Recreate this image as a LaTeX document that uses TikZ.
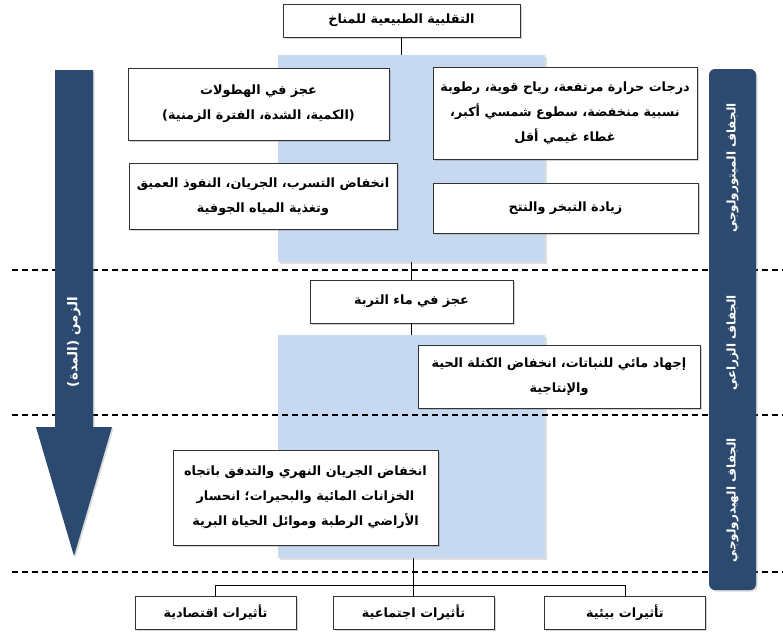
\documentclass[tikz,border=0pt]{standalone}
\usepackage{fontspec}
\newfontfamily\arabicfont[Script=Arabic]{DejaVu Sans}
\TeXXeTstate=1
\usetikzlibrary{shadows}
\definecolor{lightblue}{RGB}{198,217,241}
\definecolor{navy}{RGB}{44,74,111}
\newcommand{\ar}[1]{\beginR #1\endR}
\begin{document}
\begin{tikzpicture}[x=1pt,y=-1pt,
  box/.style={draw=black!80, line width=0.8pt, fill=white,
    drop shadow={shadow xshift=1.5pt,shadow yshift=-1.5pt,opacity=0.35},
    font=\arabicfont\bfseries\fontsize{12.8}{25}\selectfont, align=center, inner sep=0pt},
  bluebg/.style={fill=lightblue, draw=none,
    drop shadow={shadow xshift=1.5pt,shadow yshift=-1.5pt,opacity=0.25}, inner sep=0pt},
  sep/.style={dash pattern=on 6pt off 4pt, line width=1.2pt},
  conn/.style={line width=0.9pt},
  barlabel/.style={text=white, font=\arabicfont\bfseries\fontsize{12}{14}\selectfont, rotate=90, inner sep=0pt}
]
\useasboundingbox (0,0) rectangle (783,635);
% blue backgrounds
\node[bluebg, minimum width=267pt, minimum height=207pt] (blue1) at (411.5,158.5) {};
\node[bluebg, minimum width=267pt, minimum height=223pt] (blue2) at (411.5,446.5) {};
% separators
\coordinate (s1a) at (12,270); \coordinate (s1b) at (783,270);
\coordinate (s2a) at (12,415); \coordinate (s2b) at (783,415);
\coordinate (s3a) at (12,572); \coordinate (s3b) at (783,572);
\draw[sep] (s1a) -- (s1b);
\draw[sep] (s2a) -- (s2b);
\draw[sep] (s3a) -- (s3b);
% boxes
\node[box, minimum width=237pt, minimum height=33pt] (top) at (401.5,20.5) {\ar{التقلبية الطبيعية للمناخ}};
\node[box, minimum width=261pt, minimum height=72pt] (prec) at (258.5,104) {\ar{عجز في الهطولات}\\\ar{(الكمية، الشدة، الفترة الزمنية)}};
\node[box, minimum width=268pt, minimum height=66pt] (infil) at (263,196.5) {\ar{انخفاض التسرب، الجريان، النفوذ العميق}\\\ar{وتغذية المياه الجوفية}};
\node[box, minimum width=264pt, minimum height=92pt] (temp) at (565,113) {\ar{درجات حرارة مرتفعة، رياح قوية، رطوبة}\\\ar{نسبية منخفضة، سطوع شمسي أكبر،}\\\ar{غطاء غيمي أقل}};
\node[box, minimum width=265pt, minimum height=50pt] (evap) at (565.5,208) {\ar{زيادة التبخر والنتح}};
\node[box, minimum width=203pt, minimum height=43pt] (soil) at (411.5,301.5) {\ar{عجز في ماء التربة}};
\node[box, minimum width=282pt, minimum height=63pt] (plant) at (559,376.5) {\ar{إجهاد مائي للنباتات، انخفاض الكتلة الحية}\\\ar{والإنتاجية}};
\node[box, minimum width=265pt, minimum height=95pt] (flow) at (305.5,497.5) {\ar{انخفاض الجريان النهري والتدفق باتجاه}\\\ar{الخزانات المائية والبحيرات؛ انحسار}\\\ar{الأراضي الرطبة وموائل الحياة البرية}};
\node[box, minimum width=161pt, minimum height=33pt] (econ) at (215.5,612.5) {\ar{تأثيرات اقتصادية}};
\node[box, minimum width=161pt, minimum height=33pt] (soc) at (413.5,612.5) {\ar{تأثيرات اجتماعية}};
\node[box, minimum width=161pt, minimum height=33pt] (env) at (625,612.5) {\ar{تأثيرات بيئية}};
% connectors
\coordinate (junc) at (413,585);
\draw[conn] (top.south) -- (top.south |- blue1.north);
\draw[conn] (blue1.south -| soil.north) -- (soil.north);
\draw[conn] (soil.south) -- (soil.south |- blue2.north);
\draw[conn] (blue2.south -| junc) -- (junc);
\draw[conn] (econ.north) -- (econ.north |- junc) -- (env.north |- junc) -- (env.north);
\draw[conn] (soc.north |- junc) -- (soc.north);
% time arrow
\fill[navy, drop shadow={shadow xshift=1.5pt,shadow yshift=-1.5pt,opacity=0.3}]
  (55,70) -- (93,70) -- (93,427) -- (112,427) -- (74,556) -- (36,427) -- (55,427) -- cycle;
\node[barlabel, font=\arabicfont\bfseries\fontsize{13.5}{15}\selectfont] (timelbl) at (74,342) {\ar{الزمن (المدة)}};
% drought bar
\node[fill=navy, rounded corners=6pt, minimum width=47pt, minimum height=521pt, inner sep=0pt,
  drop shadow={shadow xshift=1.5pt,shadow yshift=-1.5pt,opacity=0.3}] (bar) at (732.5,329.5) {};
\node[barlabel] (met) at (732.5,168) {\ar{الجفاف الميتورولوجي}};
\node[barlabel] (agr) at (732.5,343) {\ar{الجفاف الزراعي}};
\node[barlabel] (hyd) at (732.5,500) {\ar{الجفاف الهيدرولوجي}};
\end{tikzpicture}
\end{document}
